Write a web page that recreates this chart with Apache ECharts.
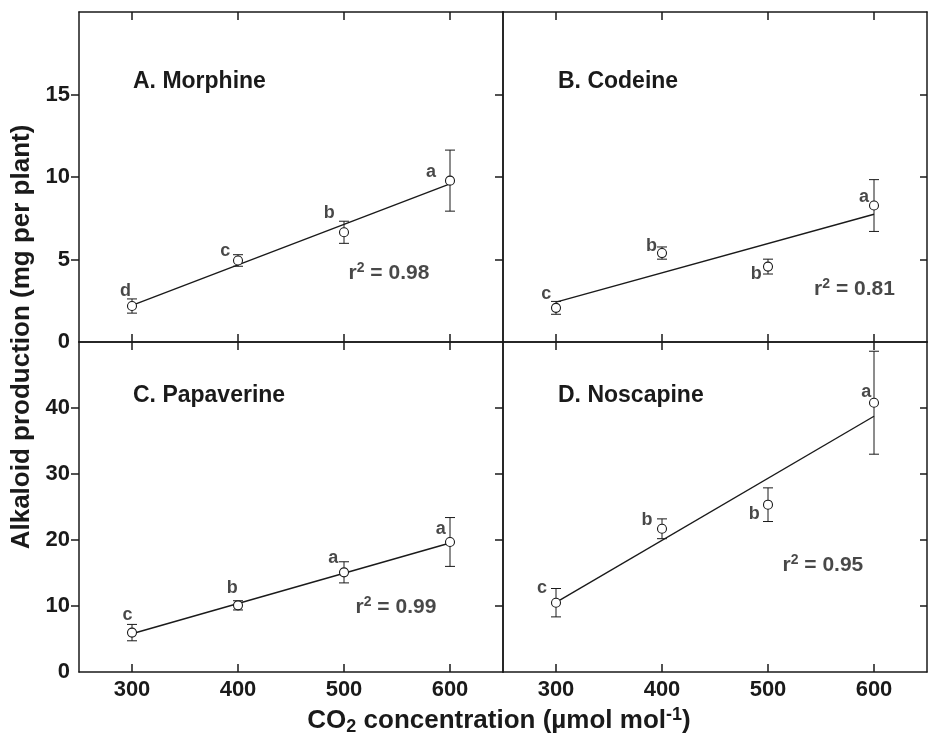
<!DOCTYPE html>
<html>
<head>
<meta charset="utf-8">
<script src="https://cdn.jsdelivr.net/npm/echarts@6/dist/echarts.min.js"></script>
<style>
  html, body { margin: 0; padding: 0; background: #fff; }
  #chart { width: 928px; height: 736px; }
</style>
</head>
<body>
<div id="chart"></div>
<script>
// CO2 levels (µmol mol-1)
const co2 = [300, 400, 500, 600];
const xTicks = [300, 400, 500, 600];
const yTicksTop = [0, 5, 10, 15];
const yTicksBottom = [0, 10, 20, 30, 40];
// tick marks only inside the frame, not at the corners
const yMarksTop = [5, 10, 15];
const yMarksBottom = [10, 20, 30, 40];

// means and error (±) per alkaloid, mg per plant
const morphineMean = [2.18, 4.94, 6.65, 9.78];
const morphineErr = [0.43, 0.35, 0.67, 1.85];
const morphineFit = [2.22, 9.58];
const morphineLetters = ['d', 'c', 'b', 'a'];
const morphineLetterPos = [[293.8, 3.09], [387.9, 5.5], [486.1, 7.83], [582.1, 10.33]];
const morphineR2 = '0.98';
const morphineR2Pos = [542.4, 4.17];

const codeineMean = [2.07, 5.39, 4.57, 8.27];
const codeineErr = [0.39, 0.37, 0.45, 1.57];
const codeineFit = [2.42, 7.74];
const codeineLetters = ['c', 'b', 'b', 'a'];
const codeineLetterPos = [[290.9, 2.93], [390.1, 5.81], [488.9, 4.1], [590.5, 8.77]];
const codeineR2 = '0.81';
const codeineR2Pos = [581.6, 3.23];

const papaverineMean = [5.97, 10.1, 15.1, 19.7];
const papaverineErr = [1.24, 0.7, 1.6, 3.7];
const papaverineFit = [5.8, 19.55];
const papaverineLetters = ['c', 'b', 'a', 'a'];
const papaverineLetterPos = [[295.7, 8.6], [394.5, 12.7], [489.8, 17.3], [591.3, 21.6]];
const papaverineR2 = '0.99';
const papaverineR2Pos = [549, 9.85];

const noscapineMean = [10.5, 21.7, 25.35, 40.8];
const noscapineErr = [2.15, 1.5, 2.55, 7.8];
const noscapineFit = [10.55, 38.75];
const noscapineLetters = ['c', 'b', 'b', 'a'];
const noscapineLetterPos = [[286.8, 12.7], [385.9, 23.1], [487.1, 23.9], [592.8, 42.4]];
const noscapineR2 = '0.95';
const noscapineR2Pos = [551.8, 16.2];

const INK = '#1a1a1a';
const FONT = '"Liberation Sans", Arial, Helvetica, sans-serif';

const panels = [
    { title: 'A. Morphine', mean: morphineMean, err: morphineErr, fit: morphineFit, letters: morphineLetters, letterPos: morphineLetterPos, r2: morphineR2, r2Pos: morphineR2Pos, top: true, left: true },
    { title: 'B. Codeine', mean: codeineMean, err: codeineErr, fit: codeineFit, letters: codeineLetters, letterPos: codeineLetterPos, r2: codeineR2, r2Pos: codeineR2Pos, top: true, left: false },
    { title: 'C. Papaverine', mean: papaverineMean, err: papaverineErr, fit: papaverineFit, letters: papaverineLetters, letterPos: papaverineLetterPos, r2: papaverineR2, r2Pos: papaverineR2Pos, top: false, left: true },
    { title: 'D. Noscapine', mean: noscapineMean, err: noscapineErr, fit: noscapineFit, letters: noscapineLetters, letterPos: noscapineLetterPos, r2: noscapineR2, r2Pos: noscapineR2Pos, top: false, left: false }
];

// layout of the 2x2 block
const L = 79, M = 503, R = 927, T = 12, C = 342, B = 672;

const chart = echarts.init(document.getElementById('chart'));

const grids = [], xAxes = [], yAxes = [], series = [], graphics = [];

panels.forEach((p, i) => {
    const gx = p.left ? L : M;
    const gy = p.top ? T : C;
    grids.push({ left: gx, top: gy, width: (p.left ? M - L : R - M), height: (p.top ? C - T : B - C), outerBoundsMode: 'none' });

    const axisLine = { show: true, onZero: false, lineStyle: { color: INK, width: 1.5 } };
    const tickStyle = { color: INK, width: 1.5 };
    const labelStyle = { color: INK, fontSize: 22, fontWeight: 'bold', fontFamily: FONT };

    // bottom and top x axes
    xAxes.push({
        type: 'value', gridIndex: i, position: 'bottom', min: 250, max: 650,
        axisLine: axisLine,
        axisTick: { show: true, inside: true, length: 8, customValues: xTicks, lineStyle: tickStyle },
        axisLabel: Object.assign({ show: !p.top, customValues: xTicks, margin: 7 }, labelStyle),
        splitLine: { show: false }
    });
    xAxes.push({
        type: 'value', gridIndex: i, position: 'top', min: 250, max: 650,
        axisLine: axisLine,
        axisTick: { show: true, inside: true, length: 8, customValues: xTicks, lineStyle: tickStyle },
        axisLabel: { show: false },
        splitLine: { show: false }
    });

    const yMax = p.top ? 20 : 50;
    const yStep = p.top ? 5 : 10;
    const marks = p.top ? yMarksTop : yMarksBottom;
    yAxes.push({
        type: 'value', gridIndex: i, position: 'left', min: 0, max: yMax, interval: yStep,
        axisLine: axisLine,
        axisTick: { show: true, inside: false, length: 8, customValues: marks, lineStyle: tickStyle },
        axisLabel: Object.assign({ show: p.left, customValues: p.top ? yTicksTop : yTicksBottom, margin: 9 }, labelStyle),
        splitLine: { show: false }
    });
    yAxes.push({
        type: 'value', gridIndex: i, position: 'right', min: 0, max: yMax, interval: yStep,
        axisLine: axisLine,
        axisTick: { show: true, inside: true, length: 7, customValues: marks, lineStyle: tickStyle },
        axisLabel: { show: false },
        splitLine: { show: false }
    });

    const xi = i * 2, yi = i * 2;

    // error bars
    series.push({
        type: 'custom', xAxisIndex: xi, yAxisIndex: yi, silent: true, z: 2,
        data: co2.map((x, k) => [x, p.mean[k] - p.err[k], p.mean[k] + p.err[k]]),
        encode: { x: 0, y: [1, 2] },
        renderItem: function (params, api) {
            const lo = api.coord([api.value(0), api.value(1)]);
            const hi = api.coord([api.value(0), api.value(2)]);
            const cap = 5;
            const st = { stroke: INK, lineWidth: 1 };
            return {
                type: 'group',
                children: [
                    { type: 'line', shape: { x1: lo[0], y1: lo[1], x2: hi[0], y2: hi[1] }, style: st },
                    { type: 'line', shape: { x1: hi[0] - cap, y1: hi[1], x2: hi[0] + cap, y2: hi[1] }, style: st },
                    { type: 'line', shape: { x1: lo[0] - cap, y1: lo[1], x2: lo[0] + cap, y2: lo[1] }, style: st }
                ]
            };
        }
    });

    // regression line
    series.push({
        type: 'line', xAxisIndex: xi, yAxisIndex: yi, silent: true, z: 3,
        data: [[co2[0], p.fit[0]], [co2[3], p.fit[1]]],
        showSymbol: false, symbol: 'none',
        lineStyle: { color: INK, width: 1.4 }
    });

    // open circles
    series.push({
        type: 'scatter', xAxisIndex: xi, yAxisIndex: yi, silent: true, z: 5,
        data: co2.map((x, k) => [x, p.mean[k]]),
        symbol: 'circle', symbolSize: 9,
        itemStyle: { color: '#fff', borderColor: INK, borderWidth: 1.1, opacity: 1 }
    });

    // significance letters
    series.push({
        type: 'scatter', xAxisIndex: xi, yAxisIndex: yi, silent: true, z: 6,
        data: p.letters.map((t, k) => ({ name: t, value: p.letterPos[k] })),
        symbolSize: 1, itemStyle: { color: 'rgba(0,0,0,0)' },
        label: {
            show: true, position: 'inside', formatter: '{b}',
            color: INK, fontSize: 18, fontWeight: 'bold', fontFamily: FONT
        }
    });

    // r² annotation
    series.push({
        type: 'scatter', xAxisIndex: xi, yAxisIndex: yi, silent: true, z: 6,
        data: [{ name: p.r2, value: p.r2Pos }],
        symbolSize: 1, itemStyle: { color: 'rgba(0,0,0,0)' },
        label: {
            show: true, position: 'inside',
            formatter: 'r{s|2} = ' + p.r2,
            color: INK, fontSize: 21, fontWeight: 'bold', fontFamily: FONT, lineHeight: 24,
            rich: {
                s: { fontSize: 14, fontWeight: 'bold', fontFamily: FONT, color: INK, lineHeight: 12, verticalAlign: 'top' }
            }
        }
    });

    // panel title
    graphics.push({
        type: 'text',
        x: gx + (p.left ? 54 : 55),
        y: p.top ? 82 : 395.5,
        style: {
            text: p.title, fill: INK, fontSize: 23, fontWeight: 'bold', fontFamily: FONT,
            align: 'left', verticalAlign: 'middle'
        }
    });
});

// axis titles
graphics.push({
    type: 'text', x: 22, y: 337, rotation: Math.PI / 2,
    style: {
        text: 'Alkaloid production (mg per plant)', fill: INK, fontSize: 26, fontWeight: 'bold',
        fontFamily: FONT, align: 'center', verticalAlign: 'middle'
    }
});
graphics.push({
    type: 'text', x: 499, y: 721,
    style: {
        text: 'CO{sub|2} concentration (µmol mol{sup|-1})', fill: INK, fontSize: 26, fontWeight: 'bold',
        fontFamily: FONT, align: 'center', verticalAlign: 'middle', lineHeight: 30,
        rich: {
            sub: { fontSize: 18, fontWeight: 'bold', fontFamily: FONT, fill: INK, lineHeight: 14, verticalAlign: 'bottom' },
            sup: { fontSize: 18, fontWeight: 'bold', fontFamily: FONT, fill: INK, lineHeight: 14, verticalAlign: 'top' }
        }
    }
});

chart.setOption({
    animation: false,
    backgroundColor: '#fff',
    grid: grids,
    xAxis: xAxes,
    yAxis: yAxes,
    series: series,
    graphic: graphics
});
</script>
</body>
</html>
